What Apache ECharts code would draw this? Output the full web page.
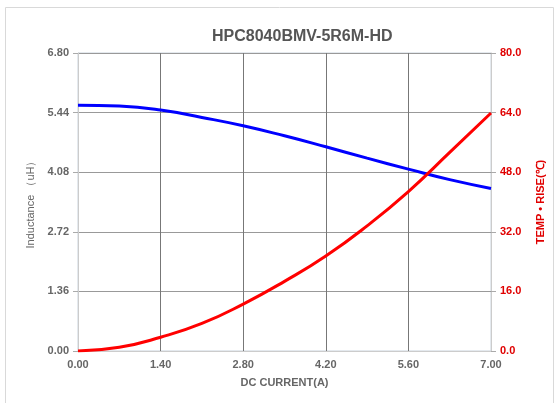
<!DOCTYPE html>
<html>
<head>
<meta charset="utf-8">
<script src="https://cdn.jsdelivr.net/npm/echarts@6/dist/echarts.min.js"></script>
<style>
  html, body { margin: 0; padding: 0; background: #fff; }
  #main { width: 555px; height: 403px; }
</style>
</head>
<body>
<div id="main"></div>
<script>
// 数据
var current = [0, 0.7, 1.4, 2.1, 2.8, 3.5, 4.2, 4.9, 5.6, 6.3, 7.0];
var inductance = [5.61, 5.59, 5.50, 5.33, 5.14, 4.91, 4.66, 4.40, 4.15, 3.91, 3.71];
var tempRise = [0, 1.0, 3.7, 7.4, 12.6, 18.7, 25.5, 33.6, 42.8, 53.3, 63.9];

var labelFont = 'Liberation Sans';

function pairs(xs, ys) {
    return xs.map(function (x, i) { return [x, ys[i]]; });
}

var myChart = echarts.init(document.getElementById('main'));
myChart.setOption({
    animation: false,
    title: {
        text: 'HPC8040BMV-5R6M-HD',
        left: 207,
        top: 24,
        textStyle: { fontFamily: labelFont, fontSize: 16, fontWeight: 'bold', color: '#555' }
    },
    graphic: [{
        type: 'rect',
        shape: { x: 5.5, y: 7.5, width: 548, height: 410 },
        style: { fill: 'none', stroke: '#d9d9d9', lineWidth: 1 },
        silent: true
    }],
    grid: {
        left: 78, right: 64, top: 53, bottom: 52,
        show: true, borderColor: '#c9d2dc', borderWidth: 1
    },
    xAxis: {
        type: 'value',
        min: 0, max: 7, interval: 1.4,
        name: 'DC CURRENT(A)',
        nameLocation: 'middle',
        nameGap: 26,
        nameTextStyle: { fontFamily: labelFont, fontSize: 11, fontWeight: 'bold', color: '#666' },
        axisLine: { lineStyle: { color: '#ccc' } },
        axisTick: { show: false },
        axisLabel: {
            margin: 8,
            formatter: function (v) { return v.toFixed(2); },
            fontFamily: labelFont, fontSize: 11, fontWeight: 'bold', color: '#666'
        },
        splitLine: { lineStyle: { color: '#777', width: 1 } }
    },
    yAxis: [{
        type: 'value',
        min: 0, max: 6.8, interval: 1.36,
        name: 'Inductance （uH）',
        nameLocation: 'middle',
        nameRotate: 90,
        nameGap: 33,
        nameTextStyle: { fontFamily: labelFont, fontSize: 11, color: '#666' },
        axisLine: { show: true, lineStyle: { color: '#ccc' } },
        axisTick: { show: true, length: 5, lineStyle: { color: '#aaa' } },
        axisLabel: {
            margin: 9,
            formatter: function (v) { return v.toFixed(2); },
            fontFamily: labelFont, fontSize: 11, fontWeight: 'bold', color: '#666'
        },
        splitLine: { lineStyle: { color: '#999', width: 1 } }
    }, {
        type: 'value',
        min: 0, max: 80, interval: 16,
        name: 'TEMP • RISE(℃)',
        nameLocation: 'middle',
        nameRotate: 90,
        nameGap: 44,
        nameTextStyle: { fontFamily: labelFont, fontSize: 11, fontWeight: 'bold', color: '#e00000' },
        axisLine: { show: true, lineStyle: { color: '#ccc' } },
        axisTick: { show: true, length: 5, lineStyle: { color: '#aaa' } },
        axisLabel: {
            margin: 9,
            formatter: function (v) { return v.toFixed(1); },
            fontFamily: labelFont, fontSize: 11, fontWeight: 'bold', color: '#e00000'
        },
        splitLine: { show: false }
    }],
    series: [{
        name: 'Inductance',
        type: 'line',
        yAxisIndex: 0,
        smooth: true,
        showSymbol: false,
        lineStyle: { color: '#0000ff', width: 3 },
        data: pairs(current, inductance)
    }, {
        name: 'Temp rise',
        type: 'line',
        yAxisIndex: 1,
        smooth: true,
        showSymbol: false,
        lineStyle: { color: '#ff0000', width: 3 },
        data: pairs(current, tempRise)
    }]
});
</script>
</body>
</html>
